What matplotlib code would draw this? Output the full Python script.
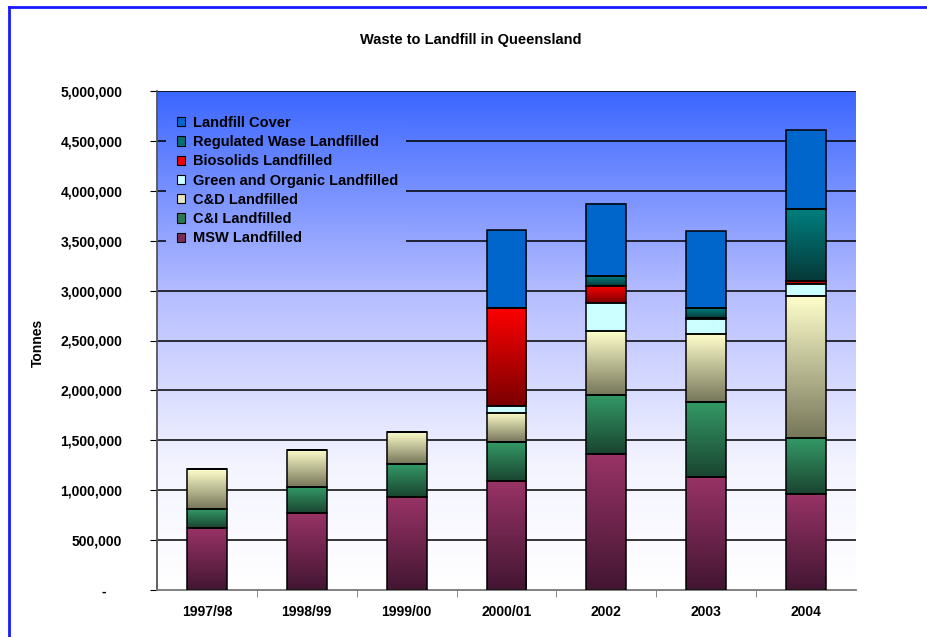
import numpy as np
import matplotlib
matplotlib.use('Agg')
import matplotlib.pyplot as plt
from matplotlib.colors import LinearSegmentedColormap, to_rgb
from matplotlib.patches import Patch
from matplotlib.ticker import FuncFormatter, FixedLocator

plt.rcParams['font.family'] = ['Liberation Sans', 'DejaVu Sans']

years = ['1997/98', '1998/99', '1999/00', '2000/01', '2002', '2003', '2004']

# tonnes (bottom to top of each stack)
msw = [620000, 775000, 930000, 1090000, 1366000, 1135000, 962000]
c_and_i = [190000, 255000, 330000, 390000, 585000, 746000, 561000]
c_and_d = [400000, 377000, 325000, 297000, 641000, 681000, 1423000]
green_organic = [0, 0, 0, 63000, 281000, 153000, 117000]
biosolids = [0, 0, 0, 989000, 176000, 14000, 30000]
regulated = [0, 0, 0, 0, 94000, 94000, 728000]
landfill_cover = [0, 0, 0, 775000, 725000, 771000, 785000]

series_names = ['MSW Landfilled', 'C&I Landfilled', 'C&D Landfilled',
                'Green and Organic Landfilled', 'Biosolids Landfilled',
                'Regulated Wase Landfilled', 'Landfill Cover']
series_values = [msw, c_and_i, c_and_d, green_organic, biosolids, regulated, landfill_cover]

# (top colour, bottom colour) for each segment gradient
series_colors = [('#993366', '#421632'),
                 ('#339966', '#1a4430'),
                 ('#ffffcc', '#76765a'),
                 ('#ccffff', '#ccffff'),
                 ('#ff0000', '#7a0000'),
                 ('#008080', '#063838'),
                 ('#0066cc', '#0066cc')]
legend_colors = ['#7a2a55', '#2a7a50', '#e6e6c0', '#ccffff', '#ee0000', '#007070', '#0066cc']

fig = plt.figure(figsize=(9.27, 6.37), dpi=100)
ax = fig.add_axes([157 / 927, 47 / 637, 699 / 927, 499 / 637])

# frame lines round the chart (top and left only show)
fig.add_artist(plt.Line2D([9 / 927, 9 / 927], [0, 1 - 7 / 637], color='#1a1aff', lw=2, transform=fig.transFigure))
fig.add_artist(plt.Line2D([9 / 927, 1], [1 - 7 / 637, 1 - 7 / 637], color='#1a1aff', lw=2, transform=fig.transFigure))

ymax = 5000000
ax.set_xlim(-0.5, len(years) - 0.5)
ax.set_ylim(0, ymax)

# background gradient blue -> white
bg = LinearSegmentedColormap.from_list('bg', [(0, '#ffffff'), (0.25, '#f4f4ff'), (0.6, '#b4bcff'), (1, '#3b66ff')])
grad = np.linspace(0, 1, 256).reshape(-1, 1)
ax.imshow(grad, cmap=bg, origin='lower', aspect='auto',
          extent=(-0.5, len(years) - 0.5, 0, ymax), zorder=0)

for yv in np.arange(500000, ymax + 1, 500000):
    ax.axhline(yv, color='black', lw=1.1, zorder=1)

x = np.arange(len(years))
bottom = np.zeros(len(years))
width = 0.4
for name, vals, (ctop, cbot) in zip(series_names, series_values, series_colors):
    vals = np.array(vals, dtype=float)
    bars = ax.bar(x, vals, width, bottom=bottom, facecolor='none',
                  edgecolor='black', lw=1.1, zorder=3)
    cmap = LinearSegmentedColormap.from_list(name, [to_rgb(cbot), to_rgb(ctop)])
    for rect in bars:
        if rect.get_height() <= 0:
            continue
        x0, y0 = rect.get_x(), rect.get_y()
        ax.imshow(grad, cmap=cmap, origin='lower', aspect='auto',
                  extent=(x0, x0 + rect.get_width(), y0, y0 + rect.get_height()), zorder=2)
    bottom += vals

ax.set_xlim(-0.5, len(years) - 0.5)
ax.set_ylim(0, ymax)

ax.yaxis.set_major_locator(FixedLocator(np.arange(0, ymax + 1, 500000)))
ax.yaxis.set_major_formatter(FuncFormatter(lambda v, p: '-    ' if v == 0 else f'{int(v):,}'))
ax.set_xticks(x)
ax.set_xticklabels(years)
ax.xaxis.set_minor_locator(FixedLocator(np.arange(0.5, len(years) - 0.5, 1)))
ax.tick_params(axis='x', which='major', length=0, pad=11)
ax.tick_params(axis='x', which='minor', length=5, color='#777777', direction='out')
ax.tick_params(axis='y', length=5, direction='out', pad=20)
for lab in ax.get_xticklabels() + ax.get_yticklabels():
    lab.set_fontsize(10)
    lab.set_fontweight('bold')

for s in ['top', 'right']:
    ax.spines[s].set_visible(False)
ax.spines['left'].set_color('#555555')
ax.spines['bottom'].set_color('#777777')
ax.spines['left'].set_linewidth(1.3)
ax.spines['bottom'].set_linewidth(1.3)

fig.text(38 / 927, 1 - 343 / 637, 'Tonnes', rotation=90, ha='center', va='center',
         fontsize=10, fontweight='bold')
fig.text(471 / 927, 1 - 40 / 637, 'Waste to Landfill in Queensland', ha='center', va='center',
         fontsize=10.5, fontweight='bold')

handles = [Patch(facecolor=c, edgecolor='black', lw=0.8, label=n)
           for n, c in zip(series_names, legend_colors)]
handles = handles[::-1]
leg = ax.legend(handles=handles, loc='upper left', bbox_to_anchor=(0.0197, 0.962), frameon=False,
                prop={'weight': 'bold', 'size': 10.5}, handlelength=0.6, handleheight=0.6,
                handletextpad=0.5, labelspacing=0.36, borderaxespad=0)

# legend box hides the gridlines behind it: paint the matching background over them
fig.canvas.draw()
bb = leg.get_window_extent()
inv = ax.transData.inverted()
left_px = ax.bbox.x0 + 9
(lx0, ly0), (lx1, ly1) = inv.transform([[left_px, bb.y0 - 8], [bb.x1 + 2, bb.y1 + 10]])
patch_grad = np.linspace(ly0 / ymax, ly1 / ymax, 128).reshape(-1, 1)
ax.imshow(patch_grad, cmap=bg, vmin=0, vmax=1, origin='lower', aspect='auto',
          extent=(lx0, lx1, ly0, ly1), zorder=1.5)
ax.set_xlim(-0.5, len(years) - 0.5)
ax.set_ylim(0, ymax)

fig.savefig('out.png', dpi=100)
